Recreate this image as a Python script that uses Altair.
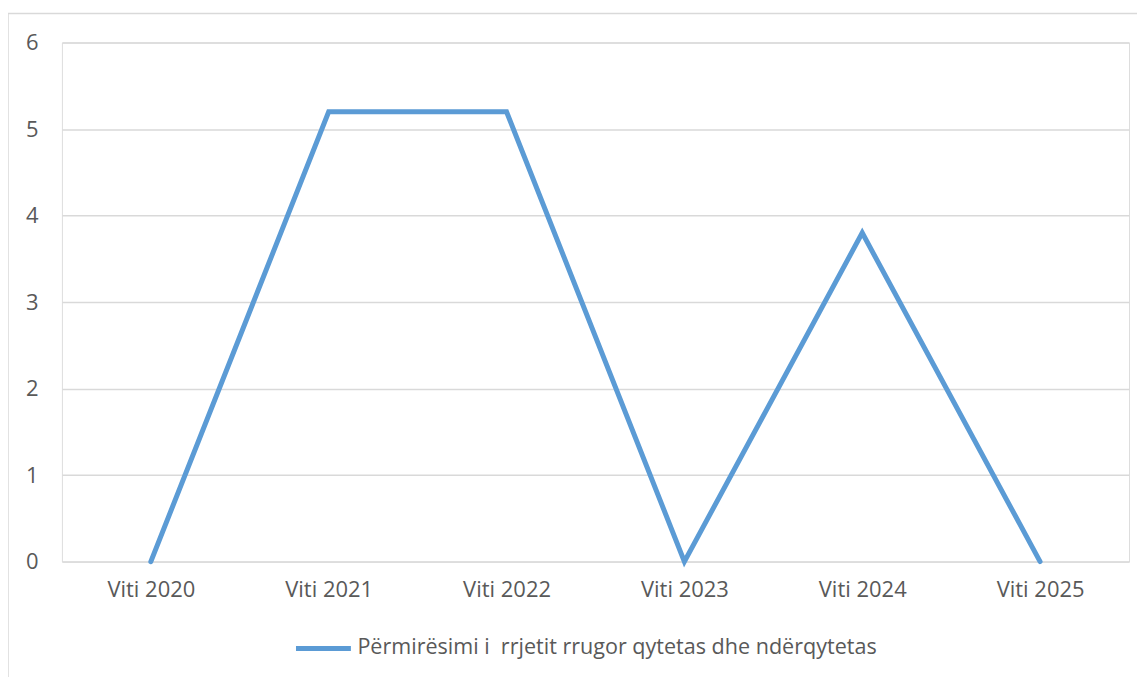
import altair as alt
import pandas as pd

years = ["Viti 2020", "Viti 2021", "Viti 2022", "Viti 2023", "Viti 2024", "Viti 2025"]
values = [0, 5.2, 5.2, 0, 3.8, 0]
series = "Përmirësimi i\u00a0 rrjetit rrugor qytetas dhe ndërqytetas"

df = pd.DataFrame({"viti": years, "vlera": values, "seria": [series] * len(years)})

FONT = "Open Sans"
GRAY = "#595959"
FS = 22

line = alt.Chart(df).mark_line(strokeWidth=5, strokeJoin="miter", strokeCap="round", clip=False).encode(
    x=alt.X("viti:N", sort=years, scale=alt.Scale(type="point", padding=0.5),
            axis=alt.Axis(title=None, labelAngle=0, ticks=False, domain=False, grid=False,
                          labelPadding=18, labelFontSize=FS, labelColor=GRAY, labelFont=FONT)),
    y=alt.Y("vlera:Q", scale=alt.Scale(domain=[0, 6], nice=False),
            axis=alt.Axis(title=None, values=[0, 1, 2, 3, 4, 5, 6], ticks=False, domain=False,
                          grid=True, gridColor="#D9D9D9", gridWidth=1.5,
                          labelPadding=24, labelFontSize=FS, labelColor=GRAY, labelFont=FONT)),
    color=alt.Color("seria:N", scale=alt.Scale(range=["#5B9BD5"]),
                    legend=alt.Legend(title=None, orient="none", legendX=232, legendY=577,
                                      symbolType="stroke", symbolSize=3025, symbolStrokeWidth=5,
                                      labelFontSize=21.6, labelColor=GRAY, labelFont=FONT,
                                      labelLimit=800, labelOffset=4)),
)

frame_df = pd.DataFrame({"k": [0]})
frame = alt.Chart(frame_df).mark_rect(fill=None, stroke="#D9D9D9", strokeWidth=1.5, clip=False).encode(
    x=alt.value(-54), x2=alt.value(1100), y=alt.value(-29), y2=alt.value(700)
)

chart = alt.layer(frame, line).properties(
    width=1069, height=520,
    autosize=alt.AutoSizeParams(type="none"),
    padding={"left": 54, "top": 34, "right": 8, "bottom": 120},
).configure_view(stroke=None).configure(background="white")

chart.save("out.html", embed_options={"renderer": "svg", "actions": False})
